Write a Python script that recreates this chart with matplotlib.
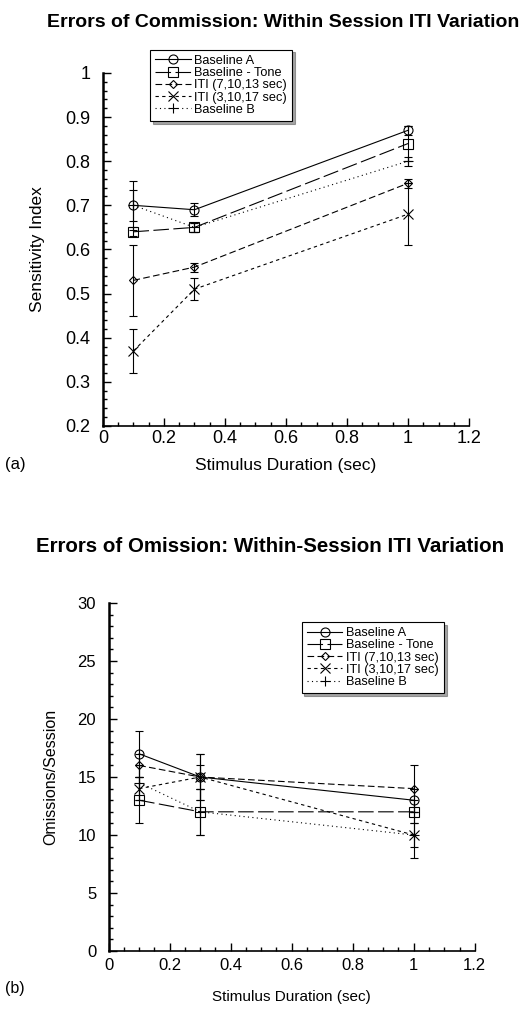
import numpy as np
import matplotlib
matplotlib.use('Agg')
import matplotlib.pyplot as plt
from matplotlib.ticker import MultipleLocator

plt.rcParams['font.family'] = ['Liberation Sans', 'DejaVu Sans']

# stimulus durations (sec)
durations = [0.1, 0.3, 1.0]
series_names = ['Baseline A', 'Baseline - Tone', 'ITI (7,10,13 sec)', 'ITI (3,10,17 sec)', 'Baseline B']

# (a) sensitivity index
commission_a = [0.70, 0.69, 0.87]
commission_tone = [0.64, 0.65, 0.84]
commission_iti7 = [0.53, 0.56, 0.75]
commission_iti3 = [0.37, 0.51, 0.68]
commission_b = [0.70, 0.65, 0.80]
commission_a_err = [0.055, 0.015, 0.01]
commission_tone_err = [0.01, 0.01, 0.04]
commission_iti7_err = [0.08, 0.01, 0.01]
commission_iti3_err = [0.05, 0.025, 0.07]
commission_b_err = [0.035, 0.01, 0.01]

# (b) omissions per session
omission_a = [17, 15, 13]
omission_tone = [13, 12, 12]
omission_iti7 = [16, 15, 14]
omission_iti3 = [14, 15, 10]
omission_b = [14.5, 12, 10]
omission_a_err = [2, 2, 1]
omission_tone_err = [2, 2, 1]
omission_iti7_err = [1, 2, 2]
omission_iti3_err = [1, 1, 2]
omission_b_err = [1.5, 2, 1]

styles = [
    dict(ls='-', marker='o', ms=6.5),
    dict(ls=(0, (14, 4)), marker='s', ms=6.5),
    dict(ls=(0, (6, 3)), marker='D', ms=4.5),
    dict(ls=(0, (3, 3)), marker='x', ms=6.5),
    dict(ls=(0, (1, 3)), marker='+', ms=7),
]


def draw(ax, values, errors):
    handles = []
    for name, y, e, st in zip(series_names, values, errors, styles):
        ax.errorbar(durations, y, yerr=e, fmt='none', ecolor='black', elinewidth=0.8,
                    capsize=3, capthick=0.8)
        h, = ax.plot(durations, y, color='black', lw=0.8, linestyle=st['ls'],
                     marker=st['marker'], ms=st['ms'], mfc='none', mec='black', mew=0.8,
                     label=name)
        handles.append(h)
    ax.spines['top'].set_visible(False)
    ax.spines['right'].set_visible(False)
    ax.spines['left'].set_linewidth(1.8)
    ax.spines['bottom'].set_linewidth(1.2)
    ax.tick_params(which='both', direction='in', width=1)
    ax.tick_params(which='major', length=6)
    ax.tick_params(which='minor', length=3)
    ax.set_xlim(0, 1.2)
    ax.xaxis.set_minor_locator(MultipleLocator(0.05))
    ax.set_xticks([0, 0.2, 0.4, 0.6, 0.8, 1.0, 1.2])
    ax.set_xticklabels(['0', '0.2', '0.4', '0.6', '0.8', '1', '1.2'])
    return handles


def add_legend(handles, anchor):
    leg = fig.legend(handles=handles, loc='upper left', bbox_to_anchor=anchor,
                     fontsize=9.2, frameon=True, fancybox=False, shadow=True,
                     handlelength=2.8, handletextpad=0.3, labelspacing=0.02,
                     borderpad=0.4, borderaxespad=0)
    leg.get_frame().set_edgecolor('black')
    leg.get_frame().set_linewidth(0.8)
    return leg


fig = plt.figure(figsize=(5.2, 10.13), dpi=100)

# ---- (a) Errors of commission
ax1 = fig.add_axes([0.198, 0.5795, 0.704, 0.3485])
h1 = draw(ax1,
          [commission_a, commission_tone, commission_iti7, commission_iti3, commission_b],
          [commission_a_err, commission_tone_err, commission_iti7_err, commission_iti3_err, commission_b_err])
ax1.set_ylim(0.2, 1.0)
ax1.yaxis.set_minor_locator(MultipleLocator(0.02))
ax1.set_yticks(np.arange(0.2, 1.01, 0.1))
ax1.set_yticklabels(['0.2', '0.3', '0.4', '0.5', '0.6', '0.7', '0.8', '0.9', '1'])
ax1.tick_params(labelsize=13)
ax1.tick_params(axis='y', pad=9)
ax1.tick_params(axis='x', pad=3)
ax1.set_ylabel('Sensitivity Index', fontsize=12.5, labelpad=15)
ax1.set_xlabel('Stimulus Duration (sec)', fontsize=12.5, labelpad=8)
fig.text(0.545, 0.978, 'Errors of Commission: Within Session ITI Variation',
         ha='center', va='center', fontsize=14, fontweight='bold')
fig.text(0.01, 0.541, '(a)', fontsize=12, va='center')
add_legend(h1, (0.288, 0.951))

# ---- (b) Errors of omission
ax2 = fig.add_axes([0.209, 0.0612, 0.704, 0.3435])
h2 = draw(ax2,
          [omission_a, omission_tone, omission_iti7, omission_iti3, omission_b],
          [omission_a_err, omission_tone_err, omission_iti7_err, omission_iti3_err, omission_b_err])
ax2.set_ylim(0, 30)
ax2.yaxis.set_major_locator(MultipleLocator(5))
ax2.yaxis.set_minor_locator(MultipleLocator(1))
ax2.tick_params(labelsize=12)
ax2.tick_params(axis='y', pad=9)
ax2.tick_params(axis='x', pad=5)
ax2.set_ylabel('Omissions/Session', fontsize=11.5, labelpad=14)
ax2.set_xlabel('Stimulus Duration (sec)', fontsize=11, labelpad=12)
fig.text(0.52, 0.461, 'Errors of Omission: Within-Session ITI Variation',
         ha='center', va='center', fontsize=14.8, fontweight='bold')
fig.text(0.01, 0.024, '(b)', fontsize=11.5, va='center')
add_legend(h2, (0.58, 0.386))

fig.savefig('out.png', dpi=100)
